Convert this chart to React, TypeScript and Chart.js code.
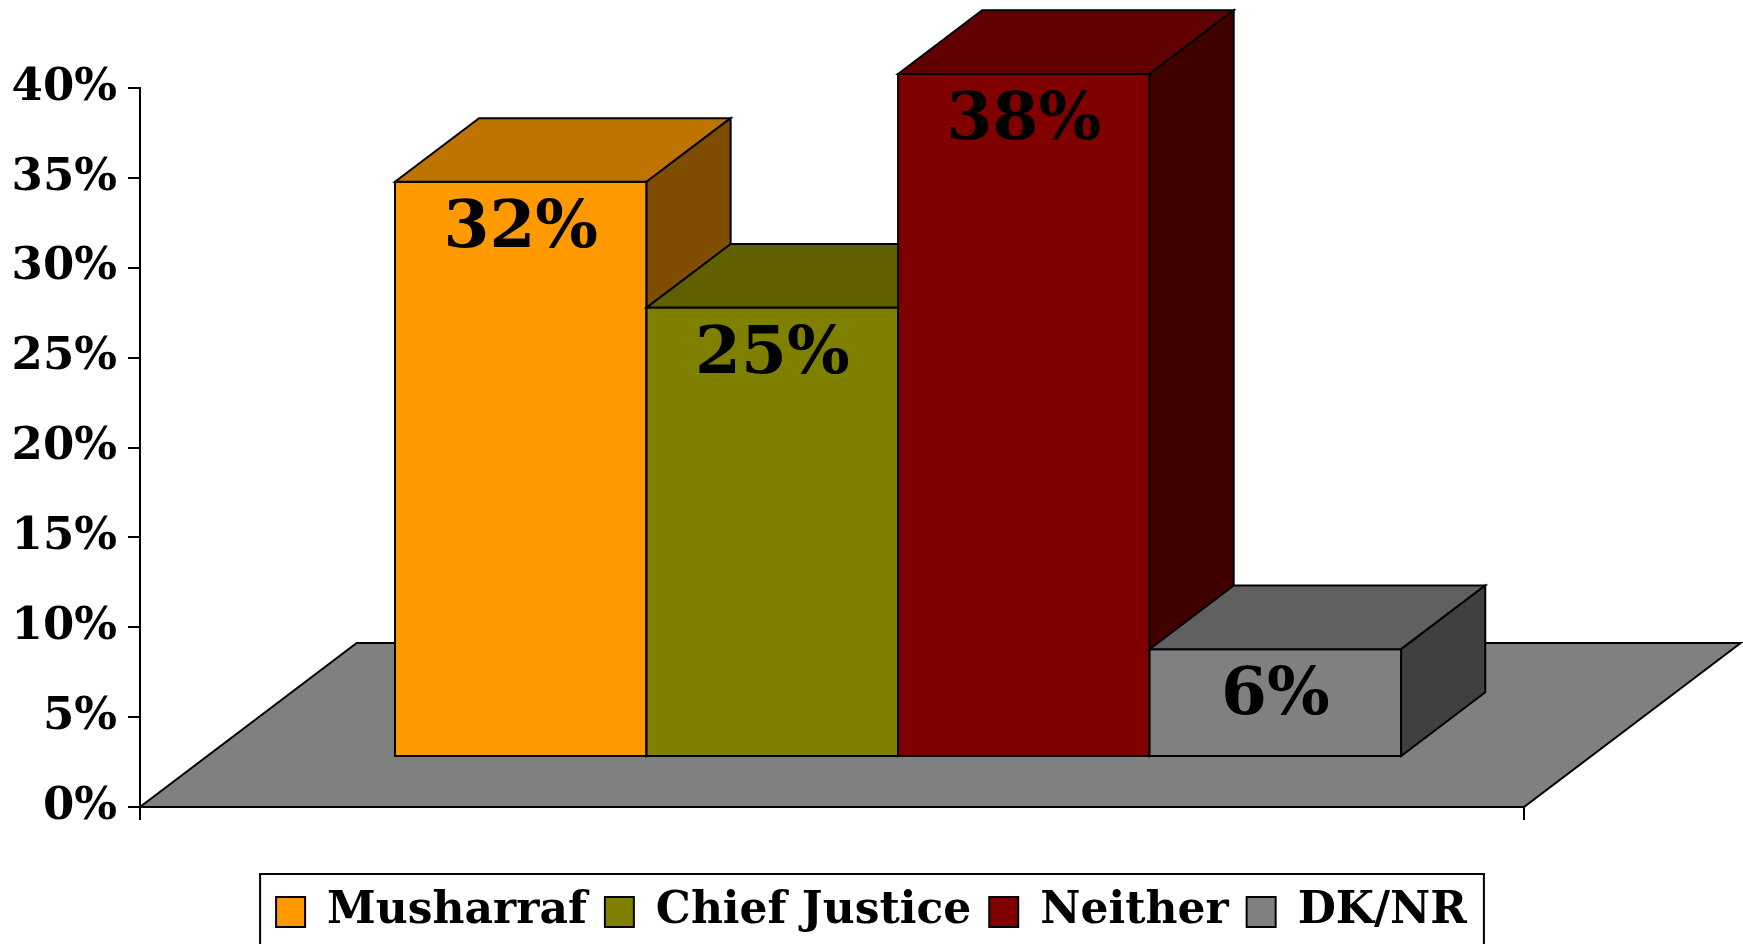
import React, { useEffect, useRef } from 'react';
import { Chart, registerables } from 'chart.js';

Chart.register(...registerables);

// ---- data ----
const categories = [''];
const seriesNames = ['Musharraf', 'Chief Justice', 'Neither', 'DK/NR'];
const seriesValues = [32, 25, 38, 6];
const seriesColors = ['#FF9900', '#808000', '#800000', '#808080'];
const yMin = 0;
const yMax = 40;
const yStep = 5;

// ---- style constants ----
const FONT = "'DejaVu Serif', 'Liberation Serif', serif";
const FLOOR_DX = 216.7;
const FLOOR_DY = -164;
const FRONT = 0.305;
const BACK = 0.693;
const FLOOR_COLOR = '#808080';
const LABEL_OFFSET = 48;

function shade(hex: string, f: number): string {
  const h = hex.replace('#', '');
  const r = Math.round(parseInt(h.slice(0, 2), 16) * f);
  const g = Math.round(parseInt(h.slice(2, 4), 16) * f);
  const b = Math.round(parseInt(h.slice(4, 6), 16) * f);
  return `rgb(${r},${g},${b})`;
}

function poly(ctx: CanvasRenderingContext2D, pts: number[][], fill: string) {
  ctx.beginPath();
  ctx.moveTo(pts[0][0], pts[0][1]);
  for (let i = 1; i < pts.length; i++) ctx.lineTo(pts[i][0], pts[i][1]);
  ctx.closePath();
  ctx.fillStyle = fill;
  ctx.fill();
  ctx.stroke();
}

const threeDPlugin = {
  id: 'threeD',
  beforeInit(chart: any) {
    const legend = chart.legend;
    if (legend && !legend.__patched) {
      const origFit = legend.fit.bind(legend);
      legend.fit = function () {
        origFit();
        this.height = 72;
      };
      legend.__patched = true;
    }
  },
  beforeDatasetsDraw(chart: any) {
    const { ctx, chartArea, scales } = chart;
    const y0 = scales.y.getPixelForValue(0);
    const xl = chartArea.left;
    const xr = chartArea.right;
    ctx.save();
    ctx.lineJoin = 'miter';
    ctx.lineWidth = 2;
    ctx.strokeStyle = '#000';
    // floor
    poly(ctx, [[xl, y0], [xr, y0], [xr + FLOOR_DX, y0 + FLOOR_DY], [xl + FLOOR_DX, y0 + FLOOR_DY]], FLOOR_COLOR);

    const fx = FLOOR_DX * FRONT;
    const fy = FLOOR_DY * FRONT;
    const bx = FLOOR_DX * (BACK - FRONT);
    const by = FLOOR_DY * (BACK - FRONT);
    const labels: { x: number; y: number; t: string }[] = [];
    chart.data.datasets.forEach((ds: any, i: number) => {
      const meta = chart.getDatasetMeta(i);
      if (meta.hidden) return;
      meta.data.forEach((el: any, j: number) => {
        const { x, y, base, width } = el.getProps(['x', 'y', 'base', 'width'], true);
        const color = ds.backgroundColor as string;
        const L = x - width / 2 + fx;
        const R = x + width / 2 + fx;
        const T = y + fy;
        const B = base + fy;
        poly(ctx, [[L, T], [R, T], [R, B], [L, B]], color);
        poly(ctx, [[L, T], [R, T], [R + bx, T + by], [L + bx, T + by]], shade(color, 0.75));
        poly(ctx, [[R, T], [R + bx, T + by], [R + bx, B + by], [R, B]], shade(color, 0.5));
        labels.push({ x: x + fx, y: T + LABEL_OFFSET, t: `${ds.data[j]}%` });
      });
    });
    ctx.fillStyle = '#000';
    ctx.font = `bold 66px ${FONT}`;
    ctx.textAlign = 'center';
    ctx.textBaseline = 'middle';
    labels.forEach((l) => ctx.fillText(l.t, l.x, l.y));
    ctx.restore();
    return false;
  },
  afterDraw(chart: any) {
    const legend = chart.legend;
    if (!legend || !legend.legendHitBoxes || !legend.legendHitBoxes.length) return;
    const hb = legend.legendHitBoxes;
    let left = Infinity, right = -Infinity, top = Infinity;
    hb.forEach((b: any) => {
      left = Math.min(left, b.left);
      right = Math.max(right, b.left + b.width);
      top = Math.min(top, b.top);
    });
    const { ctx } = chart;
    ctx.save();
    ctx.strokeStyle = '#000';
    ctx.lineWidth = 2;
    ctx.strokeRect(left - 16, top - 16, right - left + 33, chart.height - top + 40);
    ctx.restore();
  },
};

export default function App() {
  const ref = useRef<HTMLCanvasElement | null>(null);
  useEffect(() => {
    if (!ref.current) return;
    Chart.defaults.font.family = FONT;
    Chart.defaults.color = '#000';
    const chart = new Chart(ref.current, {
      type: 'bar',
      data: {
        labels: categories,
        datasets: seriesNames.map((name, i) => ({
          label: name,
          data: [seriesValues[i]],
          backgroundColor: seriesColors[i],
          borderColor: '#000',
          borderWidth: 2,
          categoryPercentage: 0.727,
          barPercentage: 1.0,
          yAxisID: 'y',
        })),
      },
      options: {
        responsive: false,
        animation: false,
        layout: { padding: { top: 88, right: 0, left: 0, bottom: 0 } },
        plugins: {
          legend: {
            position: 'bottom',
            labels: {
              boxWidth: 29,
              boxHeight: 30,
              padding: 18,
              color: '#000',
              font: { family: FONT, size: 44, weight: 'bold' },
            },
          },
          tooltip: { enabled: false },
        },
        scales: {
          x: {
            type: 'category',
            offset: true,
            ticks: { display: false },
            grid: {
              offset: true,
              drawOnChartArea: false,
              drawTicks: true,
              tickLength: 13,
              color: '#000',
              lineWidth: 2,
            },
            border: { display: true, color: '#000', width: 2 },
            afterFit: (scale: any) => {
              scale.height = 65;
            },
          },
          y: {
            position: 'left',
            min: yMin,
            max: yMax,
            ticks: {
              stepSize: yStep,
              padding: 11,
              color: '#000',
              font: { family: FONT, size: 45, weight: 'bold' },
              callback: (v: any) => `${v}%`,
            },
            grid: {
              drawOnChartArea: false,
              drawTicks: true,
              tickLength: 12,
              color: '#000',
              lineWidth: 2,
            },
            border: { display: true, color: '#000', width: 2 },
            afterFit: (scale: any) => {
              scale.width = 140;
            },
          },
          yRightSpace: {
            position: 'right',
            display: true,
            min: yMin,
            max: yMax,
            ticks: { display: false },
            grid: { display: false, drawTicks: false },
            border: { display: false },
            afterFit: (scale: any) => {
              scale.width = 219;
            },
          },
        },
      },
      plugins: [threeDPlugin as any],
    });
    return () => chart.destroy();
  }, []);
  return (
    <div style={{ position: 'fixed', left: 0, top: 0, width: 1743, height: 944, background: '#fff' }}>
      <canvas ref={ref} width={1743} height={944} style={{ display: 'block' }} />
    </div>
  );
}
